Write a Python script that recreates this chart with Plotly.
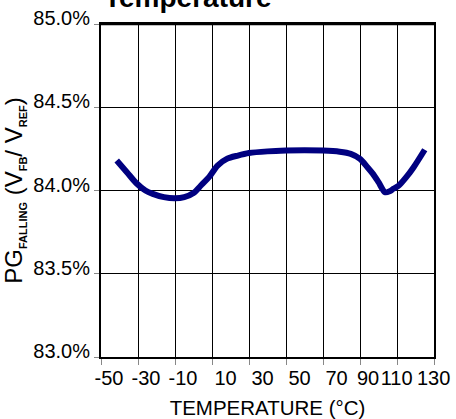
import plotly.graph_objects as go

temps = [-41.5, -36, -31, -26, -22, -16, -10, -5, 0, 4, 8.7, 13, 18, 24, 30, 40, 50, 60, 70, 79, 85, 90, 94, 97, 100, 103.5, 106, 108, 111, 115, 119, 125]
pg_falling = [84.18, 84.11, 84.045, 84.00, 83.98, 83.96, 83.953, 83.96, 83.985, 84.03, 84.085, 84.15, 84.19, 84.21, 84.225, 84.235, 84.24, 84.242, 84.24, 84.233, 84.22, 84.19, 84.14, 84.10, 84.05, 83.99, 83.995, 84.01, 84.03, 84.08, 84.14, 84.245]

x_ticks = [-50, -30, -10, 10, 30, 50, 70, 90, 110, 130]
x_tick_labels = ["-50", "-30", "-10", "\u00a0\u00a010", "\u00a0\u00a030", "\u00a0\u00a050", "\u00a0\u00a070", "90", "110\u00a0\u00a0\u00a0", "130\u00a0\u00a0\u00a0"]
y_ticks = [83.0, 83.5, 84.0, 84.5, 85.0]
y_tick_labels = ["83.0%", "83.5%", "84.0%", "84.5%", "85.0%"]

FONT = "Liberation Sans, Arial, sans-serif"

fig = go.Figure()
fig.add_trace(go.Scatter(
    x=temps, y=pg_falling, mode="lines",
    line=dict(color="#000080", width=6, shape="spline", smoothing=0.8),
    showlegend=False, hoverinfo="skip",
))

fig.update_layout(
    width=456, height=419,
    margin=dict(l=101, r=22, t=24, b=62),
    paper_bgcolor="white", plot_bgcolor="white",
    font=dict(family=FONT, size=20, color="black"),
    annotations=[dict(
        text="<b>Temperature</b>", xref="paper", yref="paper",
        x=0.26, y=1.027, xanchor="center", yanchor="bottom",
        showarrow=False, font=dict(family=FONT, size=28, color="black"),
    )],
    shapes=[dict(
        type="line", xref="paper", yref="paper", x0=0, x1=1, y0=1, y1=1,
        line=dict(color="black", width=2.5), layer="above",
    )],
)

fig.update_xaxes(
    range=[-50, 130], tickvals=x_ticks, ticktext=x_tick_labels, tickangle=0,
    showgrid=True, gridcolor="black", gridwidth=1,
    showline=True, linecolor="black", linewidth=2, mirror=True,
    ticks="outside", ticklen=6, tickcolor="#888888", tickwidth=1,
    tickfont=dict(size=20), zeroline=False, automargin=False,
    ticklabelshift=8, ticklabelstandoff=-4, ticklabeloverflow="allow",
    title=dict(text="TEMPERATURE (°C)", font=dict(size=20.5)),
)
fig.update_yaxes(
    range=[83.0, 85.0], tickvals=y_ticks, ticktext=y_tick_labels,
    showgrid=True, gridcolor="black", gridwidth=1,
    showline=True, linecolor="black", linewidth=2, mirror=True,
    ticks="outside", ticklen=5, tickcolor="#888888", tickwidth=1,
    tickfont=dict(size=20), zeroline=False, automargin=False,
    ticklabelshift=-6, ticklabeloverflow="allow",
    title=dict(
        text="PG<sub><span style='font-size:11px'><b>FALLING</b></span></sub> (V<sub><span style='font-size:11px'><b>FB</b></span></sub>/ V<sub><span style='font-size:11px'><b>REF</b></span></sub>)",
        font=dict(size=24),
    ),
)

fig.write_html("out.html", config={"displayModeBar": False},
               post_script="document.body.style.margin='0';")
